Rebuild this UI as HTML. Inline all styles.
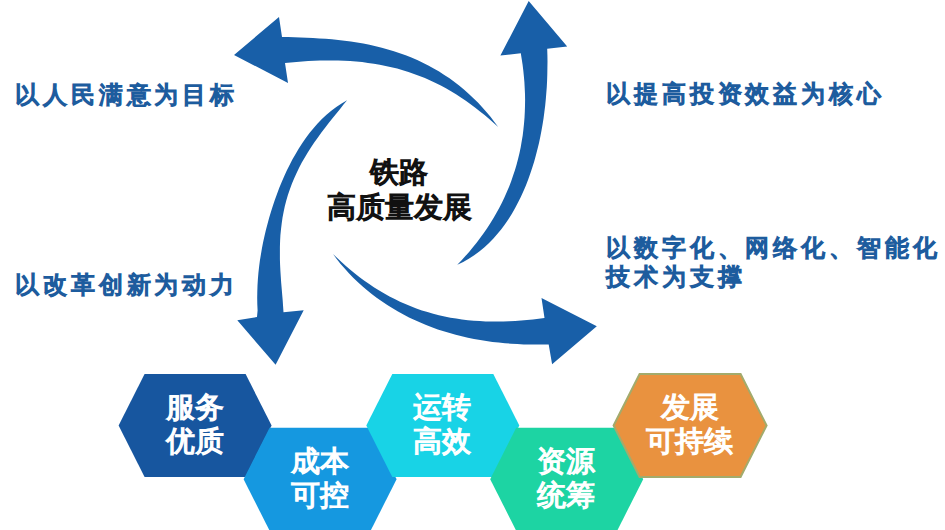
<!DOCTYPE html>
<html><head><meta charset="utf-8"><style>
html,body{margin:0;padding:0;background:#fff;}
body{width:945px;height:530px;position:relative;overflow:hidden;font-family:"Liberation Sans",sans-serif;}
svg{position:absolute;left:0;top:0;}
.t{position:absolute;color:#1d5c9e;font-weight:normal;font-size:24px;letter-spacing:3.9px;line-height:28.5px;white-space:nowrap;-webkit-text-stroke:1.5px #1d5c9e;}
.c{position:absolute;color:#111;font-weight:normal;font-size:29px;line-height:35px;text-align:center;width:200px;white-space:nowrap;-webkit-text-stroke:1.5px #111;}
.ht{position:absolute;color:#fff;font-weight:normal;font-size:29px;line-height:34px;text-align:center;width:160px;white-space:nowrap;-webkit-text-stroke:1.3px #fff;}
</style></head><body>
<svg width="945" height="530" viewBox="0 0 945 530">
<path d="M285.0 63.0L288.0 83.0L234.0 55.0L279.0 17.0L282.0 37.0L288.1 37.1L294.2 37.3L300.4 37.5L306.7 37.7L313.0 38.0L319.2 38.4L325.6 38.8L331.9 39.3L338.2 40.0L344.5 40.7L350.8 41.5L357.1 42.5L363.3 43.6L369.5 44.8L375.7 46.2L381.8 47.7L387.9 49.4L393.9 51.2L399.8 53.2L405.7 55.3L411.4 57.6L417.2 60.0L422.8 62.7L428.3 65.5L433.7 68.4L439.1 71.6L444.3 74.9L449.5 78.3L454.5 82.0L459.4 85.8L464.2 89.8L468.9 93.9L473.4 98.2L477.9 102.6L482.2 107.2L486.4 112.0L490.5 116.8L494.4 121.9L498.2 127.0L493.7 123.0L489.2 119.0L484.6 115.1L480.0 111.4L475.3 107.7L470.6 104.2L465.8 100.7L460.9 97.4L456.0 94.3L451.0 91.2L445.9 88.3L440.8 85.5L435.6 82.9L430.3 80.4L424.9 78.1L419.5 75.9L414.0 73.9L408.5 72.0L402.8 70.2L397.2 68.6L391.4 67.2L385.6 65.9L379.8 64.7L373.9 63.7L368.0 62.9L362.1 62.1L356.1 61.5L350.1 61.1L344.1 60.7L338.1 60.5L332.0 60.4L326.0 60.4L320.0 60.5L314.1 60.7L308.1 61.0L302.3 61.4L296.4 61.9L290.7 62.4L285.0 63.0Z" fill="#185fa8"/>
<path d="M520.8 53.2L500.4 55.5L528.7 1.1L567.2 46.4L547.2 48.7L547.4 55.1L547.5 61.5L547.4 67.8L547.3 74.2L547.1 80.5L546.8 86.8L546.3 93.0L545.8 99.3L545.2 105.6L544.4 111.8L543.6 118.1L542.6 124.3L541.5 130.5L540.3 136.8L539.0 142.9L537.5 149.1L535.9 155.3L534.2 161.4L532.3 167.4L530.3 173.5L528.2 179.5L525.9 185.4L523.4 191.2L520.8 197.0L518.0 202.6L515.0 208.2L511.9 213.7L508.6 219.0L505.0 224.2L501.3 229.2L497.3 234.1L493.2 238.8L488.8 243.2L484.2 247.5L479.3 251.5L474.2 255.3L468.8 258.7L463.2 261.9L457.3 264.8L461.4 260.5L465.4 256.1L469.3 251.7L473.1 247.1L476.8 242.5L480.3 237.8L483.8 233.0L487.1 228.2L490.3 223.2L493.4 218.2L496.4 213.1L499.2 208.0L501.9 202.8L504.4 197.5L506.8 192.1L509.1 186.7L511.2 181.2L513.1 175.6L515.0 170.0L516.6 164.4L518.1 158.7L519.5 152.9L520.7 147.2L521.7 141.3L522.7 135.5L523.4 129.6L524.0 123.7L524.5 117.8L524.8 111.9L525.0 105.9L525.1 100.0L525.0 94.1L524.7 88.1L524.4 82.2L523.9 76.4L523.3 70.5L522.6 64.7L521.7 58.9L520.8 53.2Z" fill="#185fa8"/>
<path d="M548.7 344.5L552.1 364.3L596.8 326.2L541.5 297.9L544.5 318.1L538.7 318.8L532.9 319.4L527.0 320.0L521.1 320.5L515.2 320.9L509.3 321.2L503.4 321.4L497.5 321.5L491.5 321.5L485.6 321.4L479.7 321.1L473.8 320.7L467.9 320.2L462.0 319.5L456.2 318.6L450.4 317.7L444.6 316.5L438.9 315.2L433.2 313.8L427.5 312.1L421.9 310.4L416.3 308.4L410.8 306.3L405.4 304.1L400.0 301.7L394.7 299.1L389.5 296.4L384.3 293.5L379.2 290.5L374.2 287.4L369.2 284.1L364.4 280.7L359.6 277.2L354.9 273.6L350.3 269.8L345.9 266.0L341.5 262.1L337.2 258.1L333.0 254.0L336.7 259.0L340.6 263.9L344.7 268.6L348.9 273.2L353.2 277.7L357.7 282.1L362.4 286.3L367.1 290.3L372.0 294.2L377.0 298.0L382.1 301.6L387.3 305.0L392.6 308.3L398.0 311.5L403.5 314.5L409.0 317.4L414.6 320.1L420.3 322.6L426.1 325.0L431.9 327.3L437.8 329.4L443.7 331.3L449.7 333.1L455.7 334.8L461.8 336.3L467.9 337.7L474.0 338.9L480.2 340.0L486.3 341.0L492.5 341.9L498.7 342.6L505.0 343.2L511.2 343.7L517.4 344.1L523.7 344.4L529.9 344.5L536.2 344.6L542.4 344.6L548.7 344.5Z" fill="#185fa8"/>
<path d="M283.5 312.3L303.7 310.2L275.6 364.8L237.3 320.2L257.0 317.0L257.6 310.6L257.3 304.2L257.2 297.9L257.3 291.6L257.5 285.4L257.9 279.1L258.4 273.0L259.1 266.8L259.9 260.6L260.9 254.5L261.9 248.4L263.1 242.2L264.5 236.1L265.9 230.0L267.5 224.0L269.1 217.9L270.9 211.9L272.8 205.9L274.8 199.9L277.0 193.9L279.2 188.0L281.6 182.2L284.2 176.3L286.8 170.6L289.6 164.9L292.5 159.3L295.6 153.9L298.8 148.5L302.2 143.2L305.8 138.1L309.5 133.1L313.5 128.2L317.6 123.6L321.9 119.1L326.5 114.8L331.3 110.8L336.3 107.0L341.6 103.5L347.1 100.2L343.5 104.6L339.9 109.2L336.2 113.7L332.5 118.3L328.7 123.0L325.1 127.7L321.4 132.5L317.9 137.4L314.4 142.3L311.1 147.3L307.9 152.3L304.8 157.4L301.8 162.6L299.1 167.8L296.5 173.2L294.1 178.5L291.8 184.0L289.8 189.4L287.9 195.0L286.3 200.6L284.8 206.3L283.6 212.0L282.5 217.7L281.7 223.5L281.0 229.3L280.4 235.2L280.1 241.1L279.9 247.1L279.9 253.0L279.9 259.0L280.1 264.9L280.4 270.9L280.8 276.9L281.2 282.9L281.7 288.8L282.2 294.7L282.7 300.6L283.1 306.5L283.5 312.3Z" fill="#185fa8"/>
<path d="M118.6 425.5L144.6 374.0L245.6 374.0L271.6 425.5L245.6 477.0L144.6 477.0Z" fill="#17569f"/>
<path d="M243.6 479.2L269.6 427.7L370.6 427.7L396.6 479.2L370.6 530.7L269.6 530.7Z" fill="#1598e0"/>
<path d="M366.3 425.5L392.3 374.0L493.3 374.0L519.3 425.5L493.3 477.0L392.3 477.0Z" fill="#18d3e6"/>
<path d="M490.2 479.2L516.2 427.7L617.2 427.7L643.2 479.2L617.2 530.7L516.2 530.7Z" fill="#1dd4a3"/>
<path d="M613.6 425.5L639.6 374.0L740.6 374.0L766.6 425.5L740.6 477.0L639.6 477.0Z" fill="#e9923f" stroke="#a3ab6c" stroke-width="2"/>
</svg>
<div class="t" style="left:15px;top:81px">以人民满意为目标</div>
<div class="t" style="left:15px;top:271px">以改革创新为动力</div>
<div class="t" style="left:606px;top:80px">以提高投资效益为核心</div>
<div class="t" style="left:606px;top:234px">以数字化、网络化、智能化<br>技术为支撑</div>
<div class="c" style="left:299px;top:155px">铁路<br>高质量发展</div>
<div class="ht" style="left:114.6px;top:390.0px">服务<br>优质</div>
<div class="ht" style="left:239.6px;top:443.7px">成本<br>可控</div>
<div class="ht" style="left:362.3px;top:390.0px">运转<br>高效</div>
<div class="ht" style="left:486.2px;top:443.7px">资源<br>统筹</div>
<div class="ht" style="left:609.6px;top:390.0px">发展<br>可持续</div>
</body></html>
